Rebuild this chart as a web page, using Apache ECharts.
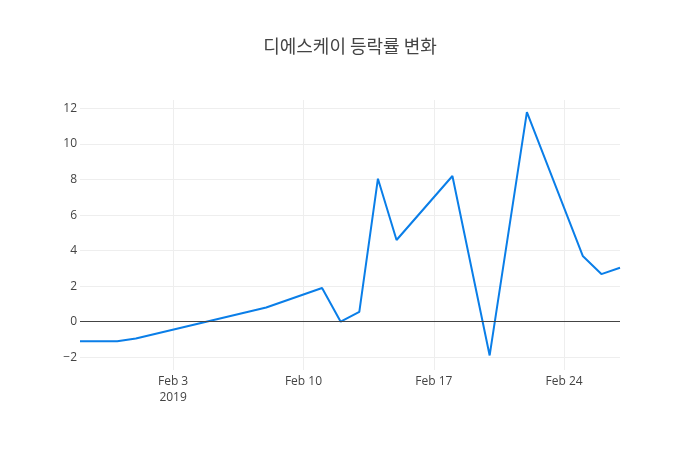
<!DOCTYPE html>
<html>
<head>
<meta charset="utf-8">
<script src="https://cdn.jsdelivr.net/npm/echarts@6/dist/echarts.min.js"></script>
<style>
  html, body { margin: 0; padding: 0; background: #fff; }
  #chart { width: 700px; height: 450px; }
</style>
</head>
<body>
<div id="chart"></div>
<script>
// 거래일과 등락률(%)
const dates = ['2019-01-29', '2019-01-31', '2019-02-01', '2019-02-08', '2019-02-11',
  '2019-02-12', '2019-02-13', '2019-02-14', '2019-02-15', '2019-02-18',
  '2019-02-20', '2019-02-22', '2019-02-25', '2019-02-26', '2019-02-27']
const rates = [-1.1, -1.1, -0.95, 0.8, 1.9, 0.0, 0.55, 8.05, 4.6, 8.2,
  -1.9, 11.8, 3.7, 2.68, 3.04]

const xTicks = ['2019-02-03', '2019-02-10', '2019-02-17', '2019-02-24']
const yTicks = [-2, 0, 2, 4, 6, 8, 10, 12]

const MONTHS = ['Jan', 'Feb', 'Mar', 'Apr', 'May', 'Jun', 'Jul', 'Aug', 'Sep', 'Oct', 'Nov', 'Dec']

function ts(s) {
  let p = s.split('-')
  return Date.UTC(+p[0], +p[1] - 1, +p[2])
}

let firstTick = ts(xTicks[0])

let chart = echarts.init(document.getElementById('chart'))
chart.setOption({
  animation: false,
  textStyle: { fontFamily: '"Open Sans", sans-serif' },
  title: {
    text: '디에스케이 등락률 변화',
    left: 'center',
    top: 32,
    textStyle: {
      fontFamily: '"Noto Sans CJK KR", sans-serif',
      fontSize: 18,
      fontWeight: 'normal',
      color: '#444'
    }
  },
  grid: {
    left: 80,
    right: 80,
    top: 100,
    bottom: 80
  },
  xAxis: {
    type: 'value',
    min: ts('2019-01-29'),
    max: ts('2019-02-27'),
    axisLine: { show: false },
    axisTick: { show: false, customValues: xTicks.map(ts) },
    splitLine: { show: true, lineStyle: { color: '#eee', width: 1 } },
    axisLabel: {
      customValues: xTicks.map(ts),
      color: '#444',
      fontSize: 12,
      lineHeight: 16,
      margin: 4,
      formatter: function (v) {
        let d = new Date(v)
        let s = MONTHS[d.getUTCMonth()] + ' ' + d.getUTCDate()
        if (v === firstTick) s += '\n' + d.getUTCFullYear()
        return s
      }
    }
  },
  yAxis: {
    type: 'value',
    min: -2.72,
    max: 12.48,
    axisLine: { show: false },
    axisTick: { show: false, customValues: yTicks },
    splitLine: { show: true, lineStyle: { color: '#eee', width: 1 } },
    axisLabel: {
      customValues: yTicks,
      color: '#444',
      fontSize: 12,
      margin: 3,
      formatter: function (v) {
        return v < 0 ? '\u2212' + Math.abs(v) : String(v)
      }
    }
  },
  series: [{
    type: 'line',
    data: dates.map((d, i) => [ts(d), rates[i]]),
    symbol: 'none',
    lineStyle: { color: '#0a7ee8', width: 2 },
    itemStyle: { color: '#0a7ee8' },
    markLine: {
      silent: true,
      symbol: 'none',
      label: { show: false },
      lineStyle: { color: '#444', width: 1, type: 'solid' },
      data: [{ yAxis: 0 }]
    },
    z: 3
  }]
})
</script>
</body>
</html>
